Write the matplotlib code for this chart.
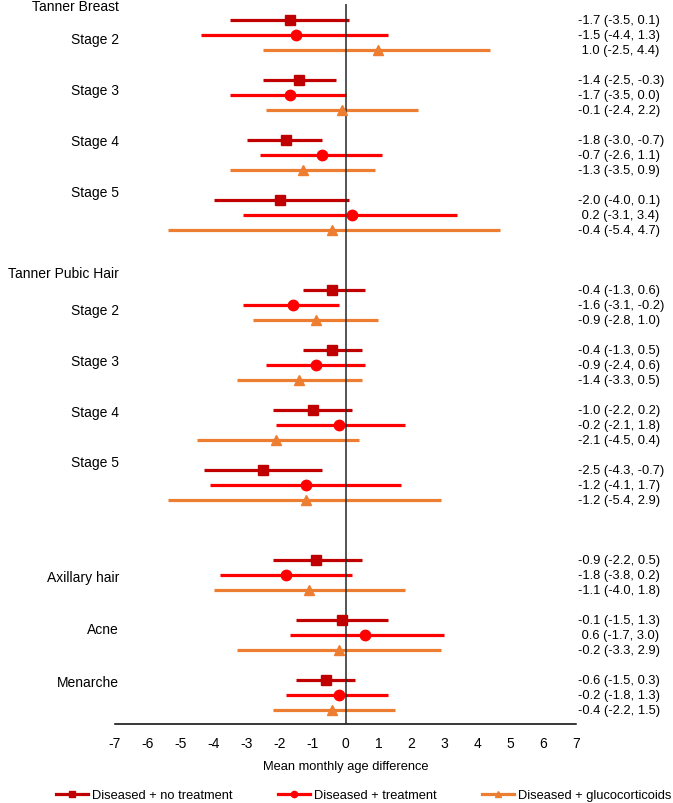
import matplotlib
matplotlib.use("Agg")
import matplotlib.pyplot as plt
import numpy as np

plt.rcParams['font.family'] = ['Liberation Sans', 'DejaVu Sans']

# =============================================================================
# Data (estimate, lower CI, upper CI) per outcome, 3 series each
# =============================================================================
series_names = ["Diseased + no treatment", "Diseased + treatment",
                "Diseased + glucocorticoids"]

no_treat_est = [-1.7, -1.4, -1.8, -2.0, -0.4, -0.4, -1.0, -2.5, -0.9, -0.1, -0.6]
no_treat_lo = [-3.5, -2.5, -3.0, -4.0, -1.3, -1.3, -2.2, -4.3, -2.2, -1.5, -1.5]
no_treat_hi = [0.1, -0.3, -0.7, 0.1, 0.6, 0.5, 0.2, -0.7, 0.5, 1.3, 0.3]

treat_est = [-1.5, -1.7, -0.7, 0.2, -1.6, -0.9, -0.2, -1.2, -1.8, 0.6, -0.2]
treat_lo = [-4.4, -3.5, -2.6, -3.1, -3.1, -2.4, -2.1, -4.1, -3.8, -1.7, -1.8]
treat_hi = [1.3, 0.0, 1.1, 3.4, -0.2, 0.6, 1.8, 1.7, 0.2, 3.0, 1.3]

gluco_est = [1.0, -0.1, -1.3, -0.4, -0.9, -1.4, -2.1, -1.2, -1.1, -0.2, -0.4]
gluco_lo = [-2.5, -2.4, -3.5, -5.4, -2.8, -3.3, -4.5, -5.4, -4.0, -3.3, -2.2]
gluco_hi = [4.4, 2.2, 0.9, 4.7, 1.0, 0.5, 0.4, 2.9, 1.8, 2.9, 1.5]

# first row slot of each group (slot = 15 px)
group_start = [0, 4, 8, 12, 18, 22, 26, 30, 36, 40, 44]

row_labels = ["Tanner Breast", "Stage 2", "Stage 3", "Stage 4", "Stage 5",
              "Tanner Pubic Hair", "Stage 2", "Stage 3", "Stage 4", "Stage 5",
              "Axillary hair", "Acne", "Menarche"]
row_label_y = [-0.95, 1.27, 4.67, 8.07, 11.47, 16.87, 19.33, 22.73, 26.13,
               29.47, 37.13, 40.6, 44.13]

xticks = np.arange(-7, 8, 1)

# =============================================================================
# Plot
# =============================================================================
fig = plt.figure(figsize=(6.73, 8.04), dpi=100)
ax = fig.add_axes([115/673, 1-725/804, (576-115)/673, (725-5)/804])

colors = ["#C00000", "#FF0000", "#ED7D31"]
markers = ["s", "o", "^"]
msizes = [6.8, 7.5, 6.5]
all_data = [(no_treat_est, no_treat_lo, no_treat_hi),
            (treat_est, treat_lo, treat_hi),
            (gluco_est, gluco_lo, gluco_hi)]

handles = []
for k, (est, lo, hi) in enumerate(all_data):
    est = np.array(est)
    lo = np.array(lo)
    hi = np.array(hi)
    y = np.array(group_start) + k
    ax.hlines(y, lo, hi, color=colors[k], lw=2.3, zorder=2)
    ax.plot(est, y, ls='none', marker=markers[k], ms=msizes[k],
            color=colors[k], zorder=4)
    h, = ax.plot([], [], color=colors[k], lw=2.3, marker=markers[k], ms=4.5)
    handles.append(h)
    for yy, e, l, u in zip(y, est, lo, hi):
        txt = f"{e:.1f} ({l:.1f}, {u:.1f})"
        if e >= 0:
            txt = " " + txt
        ax.text(7.07, yy, txt, ha='left', va='center', fontsize=9.3,
                clip_on=False)

for lab, yy in zip(row_labels, row_label_y):
    ax.text(-6.88, yy, lab, ha='right', va='center', fontsize=10,
            clip_on=False)

ax.axvline(0, color='#262626', lw=1.1, zorder=3)

ax.set_xlim(-7, 7)
ax.set_ylim((725-21)/15, (5-21)/15)
ax.set_xticks(xticks)
ax.set_xticklabels([str(t) for t in xticks], fontsize=10)
ax.tick_params(axis='x', length=0, pad=9)
ax.set_yticks([])
for s in ['top', 'right', 'left']:
    ax.spines[s].set_visible(False)
ax.spines['bottom'].set_linewidth(1.1)
ax.set_xlabel("Mean monthly age difference", fontsize=9.3, labelpad=7)

fig.legend(handles, series_names, loc='center', bbox_to_anchor=(0.54, 0.0095),
           ncol=3, frameon=False, fontsize=9.3, handlelength=2.5,
           handletextpad=0.3, columnspacing=3.5)

fig.savefig("out.png", dpi=100)
